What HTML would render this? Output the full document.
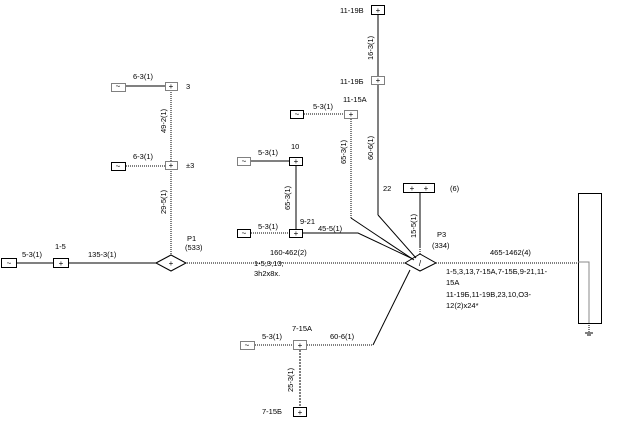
<!DOCTYPE html>
<html><head><style>
html,body{margin:0;padding:0;background:#fff;}
svg{display:block;font-family:"Liberation Sans","Noto Sans CJK SC",sans-serif;font-size:8px;fill:#000;}
</style></head><body>
<svg width="633" height="426" viewBox="0 0 633 426" xmlns="http://www.w3.org/2000/svg">
<g fill="none" stroke="#000" stroke-width="1">
<!-- left chain -->
<rect x="1.5" y="258.5" width="15" height="9"/>
<line x1="17" y1="263" x2="53" y2="263"/>
<rect x="53.5" y="258.5" width="15" height="9"/>
<line x1="69" y1="263" x2="156" y2="263"/>
<polygon points="156,263 171,255 186,263 171,271"/>
<line x1="187" y1="263" x2="405" y2="263" stroke-dasharray="1,1"/>
<!-- vertical at 171 -->
<line x1="171" y1="90" x2="171" y2="161" stroke-dasharray="1,1"/>
<line x1="171" y1="169" x2="171" y2="255" stroke-dasharray="1,1"/>
<rect x="165.5" y="82.5" width="12" height="8" stroke-dasharray="1,1"/>
<rect x="165.5" y="161.5" width="12" height="8" stroke-dasharray="1,1"/>
<rect x="111.5" y="83.5" width="14" height="8" stroke-dasharray="1,1"/>
<rect x="111.5" y="162.5" width="14" height="8"/>
<line x1="126" y1="86" x2="165" y2="86"/>
<line x1="126" y1="166" x2="165" y2="166" stroke-dasharray="1,1"/>
<!-- 10 group -->
<rect x="237.5" y="157.5" width="13" height="8" stroke-dasharray="1,1"/>
<line x1="251" y1="161" x2="289" y2="161"/>
<rect x="289.5" y="157.5" width="13" height="8"/>
<line x1="296" y1="166" x2="296" y2="229"/>
<rect x="237.5" y="229.5" width="13" height="8"/>
<line x1="251" y1="233" x2="289" y2="233" stroke-dasharray="1,1"/>
<rect x="289.5" y="229.5" width="13" height="8"/>
<polyline points="303,233 358,233 413,259"/>
<!-- 11-15A -->
<rect x="290.5" y="110.5" width="13" height="8"/>
<line x1="304" y1="114" x2="344" y2="114" stroke-dasharray="1,1"/>
<rect x="344.5" y="110.5" width="13" height="8" stroke-dasharray="1,1"/>
<line x1="351" y1="119" x2="351" y2="218" stroke-dasharray="1,1"/>
<line x1="351" y1="218" x2="414" y2="260"/>
<!-- 11-19 -->
<rect x="371.5" y="5.5" width="13" height="9"/>
<line x1="378" y1="15" x2="378" y2="76"/>
<rect x="371.5" y="76.5" width="13" height="8" stroke-dasharray="1,1"/>
<line x1="378" y1="85" x2="378" y2="215"/>
<line x1="378" y1="215" x2="416" y2="258"/>
<!-- 22 -->
<rect x="403.5" y="183.5" width="31" height="9"/>
<line x1="420" y1="193" x2="420" y2="247"/>
<line x1="420" y1="247" x2="420" y2="254" stroke-dasharray="1,1"/>
<polygon points="405,263 420,254 436,263 420,271"/>
<!-- main right -->
<line x1="436" y1="263" x2="578" y2="263" stroke-dasharray="1,1"/>
<rect x="578.5" y="193.5" width="23" height="130"/>
<polyline points="578,262 589,262 589,323" stroke="#888"/>
<line x1="589" y1="323" x2="589" y2="333" stroke-dasharray="1,1"/>
<line x1="585" y1="333" x2="593" y2="333"/>
<line x1="587" y1="335" x2="591" y2="335"/>
<!-- 7-15 -->
<rect x="240.5" y="341.5" width="14" height="8" stroke-dasharray="1,1"/>
<line x1="255" y1="345" x2="293" y2="345" stroke-dasharray="1,1"/>
<rect x="293.5" y="340.5" width="13" height="9" stroke-dasharray="1,1"/>
<line x1="307" y1="345" x2="373" y2="345" stroke-dasharray="1,1"/>
<line x1="373" y1="345" x2="410" y2="270"/>
<line x1="300" y1="350" x2="300" y2="407" stroke-dasharray="2,1"/>
<rect x="293.5" y="407.5" width="13" height="9"/>
</g>
<!-- source glyphs -->
<g font-size="8" text-anchor="middle">
<text x="9" y="266">~</text><text x="118" y="89">~</text><text x="118" y="169">~</text>
<text x="244" y="164">~</text><text x="244" y="236">~</text><text x="297" y="117">~</text><text x="247" y="348">~</text>
<text x="61" y="266">+</text><text x="171" y="89">+</text><text x="171" y="168">+</text>
<text x="296" y="164">+</text><text x="296" y="236">+</text><text x="351" y="117">+</text>
<text x="378" y="13">+</text><text x="378" y="83">+</text><text x="412" y="191">+</text><text x="426" y="191">+</text>
<text x="300" y="348">+</text><text x="300" y="415">+</text><text x="171" y="266">+</text><text x="420" y="266">/</text>
</g>
<g font-size="7.5">
<text x="22" y="257">5-3(1)</text><text x="55" y="249">1-5</text><text x="88" y="257">135-3(1)</text>
<text x="133" y="79">6-3(1)</text><text x="186" y="89">3</text>
<text x="133" y="159">6-3(1)</text><text x="186" y="168">±3</text>
<text x="187" y="241">P1</text><text x="185" y="250">(533)</text>
<text x="258" y="155">5-3(1)</text><text x="291" y="149">10</text>
<text x="258" y="229">5-3(1)</text><text x="300" y="224">9-21</text><text x="318" y="231">45-5(1)</text>
<text x="313" y="109">5-3(1)</text><text x="343" y="102">11-15A</text>
<text x="340" y="13">11-19В</text><text x="340" y="84">11-19Б</text>
<text x="383" y="191">22</text><text x="450" y="191">(6)</text>
<text x="437" y="237">P3</text><text x="432" y="248">(334)</text>
<text x="270" y="255">160-462(2)</text><text x="254" y="266">1-5,3,13;</text><text x="254" y="276">3h2x8x.</text>
<text x="490" y="255">465-1462(4)</text>
<text x="446" y="274">1-5,3,13,7-15A,7-15Б,9-21,11-</text>
<text x="446" y="285">15A</text>
<text x="446" y="297">11-19Б,11-19В,23,10,ОЗ-</text>
<text x="446" y="308">12(2)x24*</text>
<text x="262" y="339">5-3(1)</text><text x="292" y="331">7-15A</text><text x="330" y="339">60-6(1)</text>
<text x="262" y="414">7-15Б</text>
</g>
<g font-size="7.5">
<text transform="translate(166,133) rotate(-90)">49-2(1)</text>
<text transform="translate(166,214) rotate(-90)">29-5(1)</text>
<text transform="translate(290,210) rotate(-90)">65-3(1)</text>
<text transform="translate(346,164) rotate(-90)">65-3(1)</text>
<text transform="translate(373,60) rotate(-90)">16-3(1)</text>
<text transform="translate(373,160) rotate(-90)">60-6(1)</text>
<text transform="translate(416,238) rotate(-90)">15-5(1)</text>
<text transform="translate(293,392) rotate(-90)">25-3(1)</text>
</g>
</svg>
</body></html>
